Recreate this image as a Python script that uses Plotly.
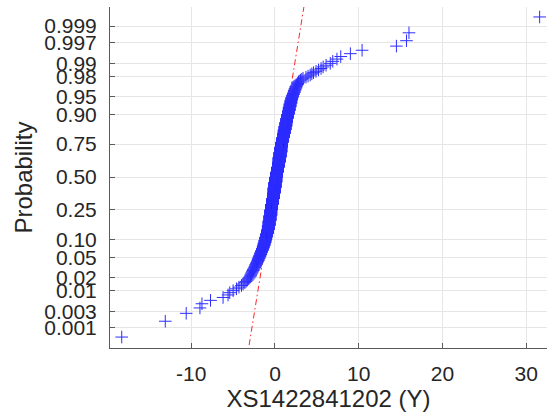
from statistics import NormalDist
import numpy as np
import plotly.graph_objects as go

# Sorted sample: individually listed tails plus a frequency table for the dense body
lower_tail = [-18.3, -13.1, -10.6, -8.96, -8.72, -7.7, -6.2, -5.6, -5.4, -5.0,
              -4.6, -4.3, -4.0, -3.8, -3.6, -3.45, -3.3, -3.2, -3.1, -3.0]
body_values = [-2.9, -2.8, -2.7, -2.6, -2.5, -2.4, -2.3, -2.2, -2.1, -2.0,
               -1.9, -1.8, -1.7, -1.6, -1.5, -1.4, -1.3, -1.2, -1.1, -1.0,
               -0.9, -0.8, -0.7, -0.6, -0.5, -0.4, -0.3, -0.2, -0.1, 0.0,
               0.1, 0.2, 0.3, 0.4, 0.5, 0.6, 0.7, 0.8, 0.9, 1.0,
               1.1, 1.2, 1.3, 1.4, 1.5, 1.6, 1.7, 1.8, 1.9, 2.0,
               2.1, 2.2, 2.3, 2.4, 2.5, 2.6, 2.7, 2.8, 2.9, 3.05,
               3.2, 3.35]
body_counts = [2, 2, 2, 2, 2, 2, 3, 3, 3, 4,
               4, 4, 5, 5, 6, 7, 8, 9, 11, 13,
               16, 19, 24, 28, 34, 36, 38, 40, 41, 41,
               40, 39, 38, 37, 36, 35, 34, 31, 26, 22,
               19, 17, 17, 16, 14, 12, 11, 9, 8, 6,
               5, 4, 4, 3, 3, 2, 2, 2, 1, 1,
               1, 1]
upper_tail = [3.7, 3.95, 4.2, 4.4, 4.6, 4.9, 5.2, 5.5, 5.75, 6.1,
              6.6, 6.9, 7.4, 7.85, 9.0, 10.4, 14.5, 15.7, 16.0, 31.6]

prob_ticks = [0.001, 0.003, 0.01, 0.02, 0.05, 0.10, 0.25, 0.50,
              0.75, 0.90, 0.95, 0.98, 0.99, 0.997, 0.999]
prob_labels = ["0.001", "0.003", "0.01", "0.02", "0.05", "0.10", "0.25", "0.50",
               "0.75", "0.90", "0.95", "0.98", "0.99", "0.997", "0.999"]
x_ticks = [-10, 0, 10, 20, 30]
x_labels = ["-10", "0", "10", "20", "30"]

nd = NormalDist()
sample = np.sort(np.concatenate([lower_tail,
                                 np.repeat(body_values, body_counts),
                                 upper_tail]))
n = sample.size
# plotting positions on the normal-probability scale
z = np.array([nd.inv_cdf((i - 0.5) / n) for i in range(1, n + 1)])

# reference line through the first and third quartiles
q1, q3 = np.percentile(sample, [25, 75])
zq1, zq3 = nd.inv_cdf(0.25), nd.inv_cdf(0.75)
slope = (zq3 - zq1) / (q3 - q1)
xmin, xmax = sample.min(), sample.max()
line_x = [xmin, xmax]
line_z = [zq1 + slope * (xmin - q1), zq1 + slope * (xmax - q1)]

fig = go.Figure()
fig.add_trace(go.Scatter(x=line_x, y=line_z, mode="lines",
                         line=dict(color="rgba(255,0,0,0.85)", width=1,
                                   dash="6px,3px,1.5px,3px"),
                         hoverinfo="skip"))
fig.add_trace(go.Scatter(x=[q1, q3], y=[zq1, zq3], mode="lines",
                         line=dict(color="red", width=1), hoverinfo="skip"))
fig.add_trace(go.Scatter(x=sample, y=z, mode="markers",
                         marker=dict(symbol="cross-thin", size=9,
                                     line=dict(color="rgb(45,45,255)", width=1))))

tick_font = dict(family="Liberation Sans, Arial, sans-serif", size=21, color="#262626")
title_font = dict(family="Liberation Sans, Arial, sans-serif", size=24, color="#262626")

fig.update_layout(
    width=547, height=419,
    margin=dict(l=110, r=0, t=7, b=71),
    paper_bgcolor="white", plot_bgcolor="white",
    showlegend=False,
    xaxis=dict(range=[-19.7, 32.48], tickvals=x_ticks, ticktext=x_labels,
               ticks="inside", ticklen=5, tickcolor="#5a5a5a",
               showline=True, linecolor="#5a5a5a", linewidth=1,
               showgrid=True, gridcolor="#e6e6e6", gridwidth=1,
               zeroline=False, tickfont=tick_font, ticklabelstandoff=7,
               title=dict(text="XS1422841202 (Y)", font=title_font, standoff=5)),
    yaxis=dict(range=[-3.50, 3.48], tickvals=[nd.inv_cdf(p) for p in prob_ticks],
               ticktext=prob_labels,
               ticks="inside", ticklen=5, tickcolor="#5a5a5a",
               showline=True, linecolor="#5a5a5a", linewidth=1,
               showgrid=True, gridcolor="#e6e6e6", gridwidth=1,
               zeroline=False, tickfont=tick_font, ticklabelstandoff=8,
               title=dict(text="Probability", font=title_font, standoff=4)),
)

fig.write_html("out.html")
